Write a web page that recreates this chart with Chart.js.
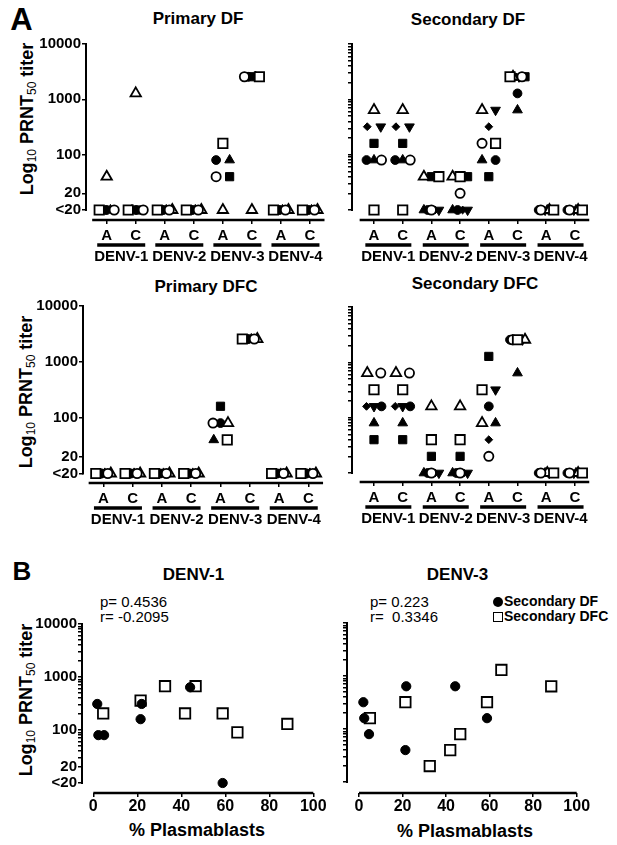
<!DOCTYPE html>
<html><head><meta charset="utf-8">
<title>PRNT50 titers</title>
<script src="https://cdn.jsdelivr.net/npm/chart.js@4.4.1/dist/chart.umd.min.js"></script>
<style>
html,body{margin:0;padding:0;background:#fff}
body{position:relative;width:617px;height:845px;overflow:hidden;font-family:"Liberation Sans",Arial,Helvetica,sans-serif;color:#000}
canvas{position:absolute}
.c{position:absolute;transform:translate(-50%,-50%);white-space:nowrap;line-height:1;font-weight:bold}
.yt{position:absolute;transform:translate(-50%,-50%) rotate(-90deg);white-space:nowrap;line-height:1;font-weight:bold;font-size:18px}
.yt sub{font-size:12px;font-weight:normal;vertical-align:-3px;line-height:0}
.st{position:absolute;white-space:pre;font-size:15px;line-height:15px}
.lg{position:absolute;white-space:pre;font-size:14px;line-height:15px;font-weight:bold}
.mk{display:inline-block;width:10px;height:10px;box-sizing:border-box;vertical-align:-1px;margin-right:1px}
</style></head><body>

<div class="c" style="left:21.5px;top:18.5px;font-size:31px">A</div>
<div class="c" style="left:22px;top:571px;font-size:26px">B</div>
<div class="c" style="left:198px;top:17.5px;font-size:17px">Primary DF</div>
<div class="c" style="left:468px;top:18.5px;font-size:17px">Secondary DF</div>
<div class="c" style="left:206px;top:285.5px;font-size:17px">Primary DFC</div>
<div class="c" style="left:475px;top:282.5px;font-size:17px">Secondary DFC</div>
<div class="c" style="left:193.5px;top:573.5px;font-size:17px">DENV-1</div>
<div class="c" style="left:457.5px;top:573.5px;font-size:17px">DENV-3</div>
<div class="c" style="left:197px;top:830px;font-size:18px">% Plasmablasts</div>
<div class="c" style="left:465px;top:830.5px;font-size:18px">% Plasmablasts</div>
<div class="yt" style="left:26.5px;top:119px">Log<sub>10</sub> PRNT<sub>50</sub> titer</div>
<div class="yt" style="left:25.5px;top:392px">Log<sub>10</sub> PRNT<sub>50</sub> titer</div>
<div class="yt" style="left:25.5px;top:700px">Log<sub>10</sub> PRNT<sub>50</sub> titer</div>
<div class="st" style="left:100px;top:593.5px">p= 0.4536
r= -0.2095</div>
<div class="st" style="left:370px;top:593.5px">p= 0.223
r=  0.3346</div>
<div class="lg" style="left:493px;top:593.5px"><span class="mk" style="background:#000;border-radius:50%"></span>Secondary DF
<span class="mk" style="border:1.8px solid #000;background:#fff"></span>Secondary DFC</div>

<script>
// ---------------- data ----------------
const LT20 = 10;                       // plotted position of "<20"
const serotypes = ['DENV-1', 'DENV-2', 'DENV-3', 'DENV-4'];
const antigens = ['A', 'C'];
const titerTicks = [10, 20, 100, 1000, 10000];
const titerTickLabels = ['<20', '20', '100', '1000', '10000'];
const pctTicks = [0, 20, 40, 60, 80, 100];

// Panel A: one entry per column (DENV-1 A, DENV-1 C, ..., DENV-4 C);
// each row = [titer, symbols from left to right]
const primaryDF = [
  [[40, '△'], [LT20, '□■●▲○']],
  [[1280, '△'], [LT20, '□▲●■○']],
  [[LT20, '□■●▲○△']],
  [[LT20, '□■●▲○△']],
  [[160, '□'], [80, '●▲'], [40, '○■'], [LT20, '△']],
  [[2560, '○●■▲□'], [LT20, '△']],
  [[LT20, '□■●▲○△']],
  [[LT20, '□■●▲○△']]
];
const secondaryDF = [
  [[640, '△'], [320, '◆▼'], [160, '■'], [80, '●▲○'], [LT20, '□']],
  [[640, '△'], [320, '◆▼'], [160, '■'], [80, '●▲○'], [LT20, '□']],
  [[40, '△■□'], [LT20, '▲●○◆▼']],
  [[40, '△□■'], [20, '○'], [LT20, '▲●◆▼']],
  [[640, '△▼'], [320, '◆'], [160, '○□'], [80, '▲●'], [40, '■']],
  [[2560, '□△◆▼○■'], [1280, '●'], [640, '▲']],
  [[LT20, '●○◆▼▲△■□']],
  [[LT20, '●○◆▼▲△■□']]
];
const primaryDFC = [
  [[LT20, '□■●▲○△']],
  [[LT20, '□■●▲○△']],
  [[LT20, '□■●▲○△']],
  [[LT20, '□■●▲○△']],
  [[160, '■'], [80, '○●△'], [40, '▲□']],
  [[2560, '□■●▲○△']],
  [[LT20, '□■●▲○△']],
  [[LT20, '□■●▲○△']]
];
const secondaryDFC = [
  [[640, '△○'], [320, '□'], [160, '◆▼●'], [80, '▲'], [40, '■']],
  [[640, '△○'], [320, '□'], [160, '◆▼●'], [80, '▲'], [40, '■']],
  [[160, '△'], [40, '□'], [20, '■'], [LT20, '▲●○◆▼']],
  [[160, '△'], [40, '□'], [20, '■'], [LT20, '▲●○◆▼']],
  [[1280, '■'], [320, '□▼'], [160, '●'], [80, '△▲'], [40, '◆'], [20, '○']],
  [[2560, '●○■□◆▼△'], [640, '▲']],
  [[LT20, '●○◆▲△▼■□']],
  [[LT20, '●○◆▼▲△■□']]
];

// Panel B: % plasmablasts vs titer
const d1DfPct = [1.8, 2.3, 4.9, 21.5, 22.0, 44.0, 58.8];
const d1DfTiter = [310, 80, 80, 160, 310, 640, LT20];
const d1DfcPct = [4.5, 21.5, 32.6, 41.7, 46.5, 58.8, 65.5, 88.2];
const d1DfcTiter = [205, 360, 670, 205, 670, 205, 90, 130];
const d3DfPct = [2.0, 2.4, 4.6, 21.3, 21.7, 44.2, 58.8];
const d3DfTiter = [320, 160, 80, 40, 640, 640, 160];
const d3DfcPct = [5.0, 21.3, 32.5, 41.9, 46.5, 58.8, 65.4, 88.3];
const d3DfcTiter = [160, 320, 20, 40, 80, 320, 1300, 640];

// ---------------- styles / layout ----------------
Chart.defaults.font.family = '"Liberation Sans", Arial, sans-serif';
Chart.defaults.color = '#000';
const PT = 12, PR = 22;
const SYM = {
  '□': {ps: 'rect', fill: false, r: 6.6},
  '○': {ps: 'circle', fill: false, r: 4.6},
  '△': {ps: 'triangle', fill: false, r: 6.0},
  '■': {ps: 'rect', fill: true, r: 5.8},
  '●': {ps: 'circle', fill: true, r: 4.4},
  '▲': {ps: 'triangle', fill: true, r: 5.6},
  '▼': {ps: 'triangle', fill: true, r: 5.6, rot: 180},
  '◆': {ps: 'rectRot', fill: true, r: 3.9}
};
const symOrder = ['□', '○', '△', '■', '●', '▲', '▼', '◆'];
const minorTicks = [];
for (let d = 10; d < 10000; d *= 10) for (let m = 1; m < 10; m++) minorTicks.push(m * d);
minorTicks.push(10000);

function styleSet(s, data, scale) {
  const st = SYM[s];
  const r = st.r * (scale || 1);
  return {
    data, clip: false, pointStyle: st.ps, pointRadius: r, pointHoverRadius: r,
    pointRotation: st.rot || 0,
    pointBackgroundColor: st.fill ? '#000' : '#fff', pointBorderColor: '#000',
    pointBorderWidth: st.fill ? 1 : 1.8
  };
}

function buildA(cols, stepPx) {
  const sets = {};
  symOrder.forEach(s => sets[s] = []);
  cols.forEach((rows, ci) => rows.forEach(([v, syms]) => {
    const arr = [...syms], n = arr.length;
    const spread = n === 2 ? 13.5 : 15;
    arr.forEach((s, k) => {
      const off = n > 1 ? (k - (n - 1) / 2) * (spread / (n - 1)) / stepPx : 0;
      sets[s].push({x: ci + off, y: v});
    });
  }));
  return symOrder.filter(s => sets[s].length).map(s => styleSet(s, sets[s]));
}

function geom(area, yw, xh) {
  const cl = Math.round(area.left - yw), ct = Math.round(area.top - PT);
  const w = Math.round(area.right + PR - cl), h = Math.round(area.bottom + xh - ct);
  return {cl, ct, w, h, L: cl + yw, T: ct + PT, R: cl + w - PR, B: ct + h - xh};
}
function mkCanvas(g) {
  const c = document.createElement('canvas');
  c.width = g.w; c.height = g.h;
  c.style.left = g.cl + 'px'; c.style.top = g.ct + 'px';
  c.style.width = g.w + 'px'; c.style.height = g.h + 'px';
  document.body.appendChild(c);
  return c;
}

const axesPlugin = {
  id: 'axesPlugin',
  afterDraw(chart, args, o) {
    const {ctx, chartArea: ca, scales: {x, y}} = chart;
    ctx.save();
    ctx.strokeStyle = '#000'; ctx.fillStyle = '#000'; ctx.lineCap = 'butt';
    ctx.lineWidth = 2;
    ctx.beginPath();
    ctx.moveTo(ca.left, y.getPixelForValue(10000) - 1);
    ctx.lineTo(ca.left, y.getPixelForValue(LT20) + 1);
    ctx.stroke();
    ctx.lineWidth = 2.3;
    ctx.beginPath();
    ctx.moveTo(x.getPixelForValue(o.x0), ca.bottom);
    ctx.lineTo(x.getPixelForValue(o.x1), ca.bottom);
    ctx.stroke();
    if (o.groups) {
      ctx.font = 'bold 15px "Liberation Sans", Arial, sans-serif';
      ctx.textAlign = 'center'; ctx.textBaseline = 'middle';
      serotypes.forEach((s, gi) => {
        const cx = (x.getPixelForValue(2 * gi) + x.getPixelForValue(2 * gi + 1)) / 2;
        ctx.lineWidth = 3.5;
        ctx.beginPath();
        ctx.moveTo(cx - o.barHalf, ca.bottom + 25);
        ctx.lineTo(cx + o.barHalf, ca.bottom + 25);
        ctx.stroke();
        ctx.fillText(s, cx, ca.bottom + 37);
      });
    }
    ctx.restore();
  }
};

function yAxis(yMin, yw, labels, minors) {
  const vals = minors ? minorTicks : titerTicks;
  return {
    type: 'logarithmic', min: yMin, max: 10000, position: 'left',
    afterBuildTicks: s => { s.ticks = vals.map(v => ({value: v})); },
    afterFit: s => { s.width = yw; },
    border: {display: false},
    grid: {display: true, drawOnChartArea: false, drawTicks: true, tickLength: 4, color: '#000', lineWidth: 1.5},
    ticks: {
      autoSkip: false, padding: 1, color: '#000', font: {size: 15, weight: 'bold'},
      callback: v => {
        if (!labels) return '';
        const i = titerTicks.indexOf(v);
        return i >= 0 ? titerTickLabels[i] : '';
      }
    }
  };
}

function panelA(cfg) {
  const XH = 48;
  const g = geom(cfg.area, cfg.yw, XH);
  const c = mkCanvas(g);
  const xMin = (g.L - cfg.tick0) / cfg.step, xMax = (g.R - cfg.tick0) / cfg.step;
  const dec = (g.B - g.T - cfg.gap) / 3;
  const yMin = Math.pow(10, 1 - cfg.gap / dec);
  new Chart(c, {
    type: 'scatter',
    data: {datasets: buildA(cfg.cols, cfg.step)},
    options: {
      responsive: false, animation: false, events: [],
      layout: {padding: {top: PT, right: PR, left: 0, bottom: 0}},
      plugins: {legend: {display: false}, tooltip: {enabled: false},
        axesPlugin: {x0: -0.5, x1: 7.5, groups: true, barHalf: cfg.barHalf}},
      scales: {
        x: {
          type: 'linear', min: xMin, max: xMax, position: 'bottom',
          afterBuildTicks: s => { s.ticks = [0, 1, 2, 3, 4, 5, 6, 7].map(v => ({value: v})); },
          afterFit: s => { s.height = XH; },
          border: {display: false},
          grid: {display: true, drawOnChartArea: false, drawTicks: true, tickLength: 4, color: '#000', lineWidth: 1.5},
          ticks: {autoSkip: false, maxRotation: 0, minRotation: 0, padding: 3, color: '#000',
            font: {size: 15, weight: 'bold'}, callback: v => antigens[Math.round(v) % 2]}
        },
        y: yAxis(yMin, cfg.yw, cfg.labels, cfg.minors)
      }
    },
    plugins: [axesPlugin]
  });
}

function panelB(cfg) {
  const XH = 26;
  const g = geom(cfg.area, cfg.yw, XH);
  const c = mkCanvas(g);
  const xMin = (g.L - cfg.x0px) / cfg.ppu, xMax = (g.R - cfg.x0px) / cfg.ppu;
  const dec = (g.B - g.T - cfg.gap) / 3;
  const yMin = Math.pow(10, 1 - cfg.gap / dec);
  const df = cfg.dfPct.map((p, i) => ({x: p, y: cfg.dfTiter[i]}));
  const dfc = cfg.dfcPct.map((p, i) => ({x: p, y: cfg.dfcTiter[i]}));
  new Chart(c, {
    type: 'scatter',
    data: {datasets: [styleSet('●', df, 1.05), styleSet('□', dfc, 1.12)]},
    options: {
      responsive: false, animation: false, events: [],
      layout: {padding: {top: PT, right: PR, left: 0, bottom: 0}},
      plugins: {legend: {display: false}, tooltip: {enabled: false},
        axesPlugin: {x0: 0, x1: 100, groups: false}},
      scales: {
        x: {
          type: 'linear', min: xMin, max: xMax, position: 'bottom',
          afterBuildTicks: s => { s.ticks = pctTicks.map(v => ({value: v})); },
          afterFit: s => { s.height = XH; },
          border: {display: false},
          grid: {display: true, drawOnChartArea: false, drawTicks: true, tickLength: 4, color: '#000', lineWidth: 1.5},
          ticks: {autoSkip: false, maxRotation: 0, minRotation: 0, padding: 0, color: '#000',
            font: {size: 16, weight: 'bold'}, callback: v => String(v)}
        },
        y: yAxis(yMin, cfg.yw, cfg.labels, true)
      }
    },
    plugins: [axesPlugin]
  });
}

panelA({area: {left: 86, right: 325, top: 44, bottom: 220}, yw: 60, tick0: 106.7, step: 29.04, gap: 10,
  labels: true, minors: false, barHalf: 24, cols: primaryDF});
panelA({area: {left: 352, right: 590, top: 44, bottom: 220}, yw: 12, tick0: 374, step: 28.7, gap: 10,
  labels: false, minors: true, barHalf: 23, cols: secondaryDF});
panelA({area: {left: 83, right: 323, top: 306, bottom: 483}, yw: 60, tick0: 103.3, step: 29.3, gap: 9.5,
  labels: true, minors: false, barHalf: 24, cols: primaryDFC});
panelA({area: {left: 352, right: 590, top: 307, bottom: 482}, yw: 12, tick0: 374, step: 28.7, gap: 9,
  labels: false, minors: true, barHalf: 23, cols: secondaryDFC});
panelB({area: {left: 82, right: 313.3, top: 624, bottom: 793}, yw: 60, x0px: 93.3, ppu: 2.2, gap: 10,
  labels: true, dfPct: d1DfPct, dfTiter: d1DfTiter, dfcPct: d1DfcPct, dfcTiter: d1DfcTiter});
panelB({area: {left: 347, right: 576.7, top: 623, bottom: 793}, yw: 12, x0px: 359, ppu: 2.177, gap: 11,
  labels: false, dfPct: d3DfPct, dfTiter: d3DfTiter, dfcPct: d3DfcPct, dfcTiter: d3DfcTiter});
</script>
</body></html>
